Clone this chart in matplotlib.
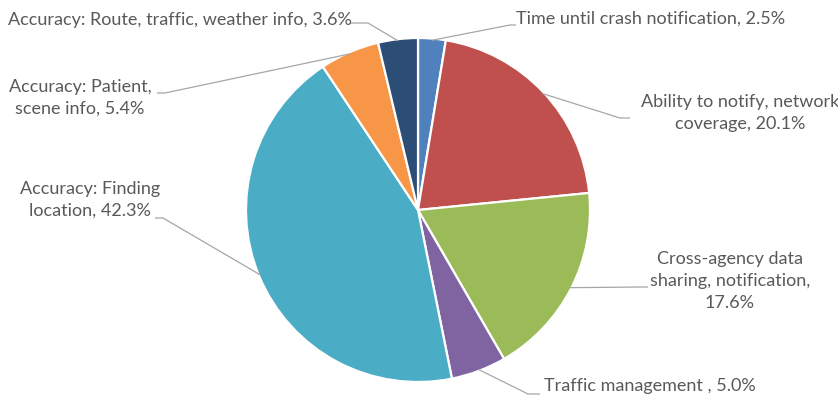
import numpy as np
import matplotlib.pyplot as plt

plt.rcParams['font.family'] = ['Lato', 'DejaVu Sans']

# shares of responses, clockwise from 12 o'clock
names = [
    "Time until crash notification",
    "Ability to notify, network\ncoverage",
    "Cross-agency data\nsharing, notification",
    "Traffic management ",
    "Accuracy: Finding\nlocation",
    "Accuracy: Patient,\nscene info",
    "Accuracy: Route, traffic, weather info",
]
shares = [2.5, 20.1, 17.6, 5.0, 42.3, 5.4, 3.6]
seps = [", ", ", ", ",\n", ", ", ", ", ", ", ", "]
colors = ["#4f81bd", "#c0504d", "#9bbb59", "#8064a2",
          "#4bacc6", "#f79646", "#2c4d75"]

W, H = 838, 396
CX, CY, R = 418, 210, 172   # pie centre / radius in pixels


def px(x, y):
    # pixel position (top-left origin) -> data units of the pie
    return (x - CX) / R, (CY - y) / R


# label placement: text point, alignment, elbow, line end (pixels)
layout = [
    ((516, 19), "left", (510, 25), (516, 25)),
    ((740, 113), "center", (620, 118), (630, 118)),
    ((730, 281), "center", (640, 287), (648, 287)),
    ((544, 386), "left", (528, 394), (540, 394)),
    ((90, 200), "center", (163, 218), (155, 218)),
    ((80, 98), "center", (165, 93), (157, 93)),
    ((180, 20), "center", (368, 23), (350, 23)),
]

fig = plt.figure(figsize=(W / 100, H / 100), dpi=100)
ax = fig.add_axes([0, 0, 1, 1])

wedges, _ = ax.pie(shares, colors=colors, startangle=90, counterclock=False,
                   radius=1.0,
                   wedgeprops=dict(edgecolor="white", linewidth=1.6))

for w, name, sep, val, (tp, ha, elbow, end) in zip(wedges, names, seps, shares, layout):
    mid = np.deg2rad((w.theta1 + w.theta2) / 2)
    ax0, ay0 = 0.99 * np.cos(mid), 0.99 * np.sin(mid)
    ex, ey = px(*elbow)
    lx, ly = px(*end)
    ax.plot([ax0, ex, lx], [ay0, ey, ly], color="#a6a6a6", lw=0.9,
            solid_capstyle="butt", zorder=1)
    tx, ty = px(*tp)
    ax.text(tx, ty, f"{name}{sep}{val:.1f}%", ha=ha, va="center",
            multialignment="center", fontsize=13, color="#595959",
            linespacing=1.45)

ax.set_aspect("auto")
ax.set_xlim(-CX / R, (W - CX) / R)
ax.set_ylim((CY - H) / R, CY / R)
ax.axis("off")

fig.savefig("out.png", dpi=100)
